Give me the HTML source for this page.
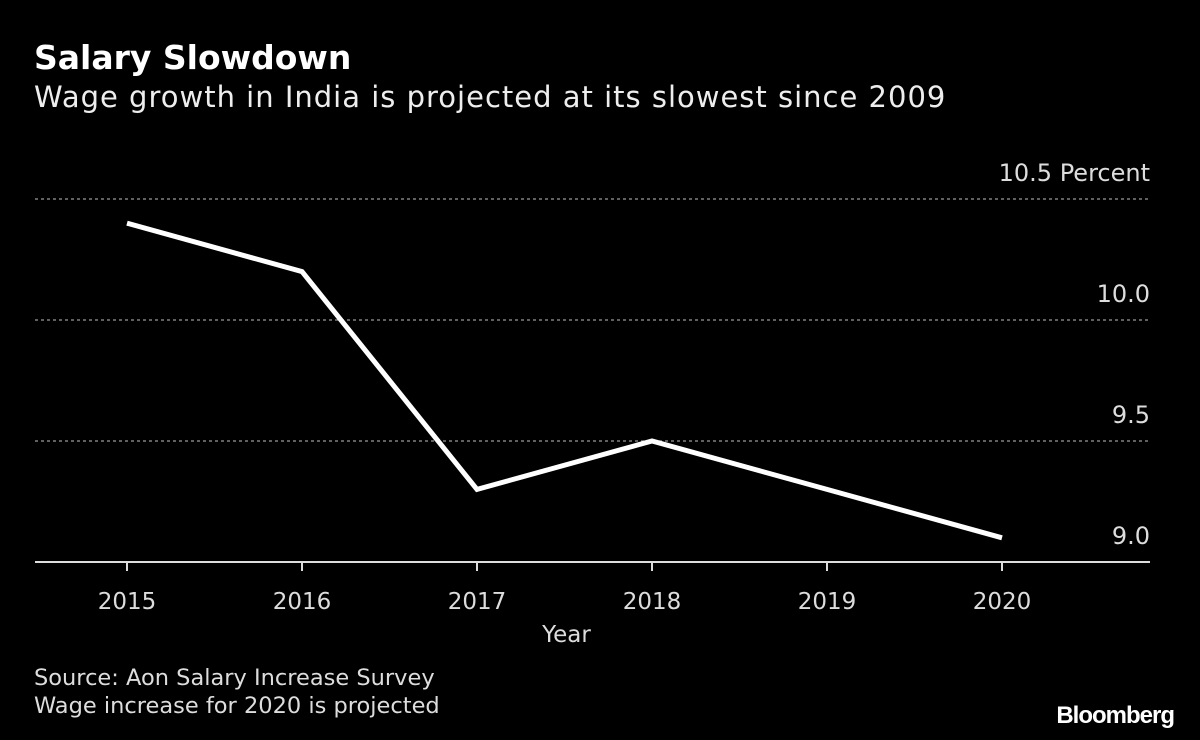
<!DOCTYPE html>
<html><head><meta charset="utf-8">
<style>
html,body{margin:0;padding:0;background:#000;}
body{width:1200px;height:740px;overflow:hidden;font-family:"DejaVu Sans","Liberation Sans",sans-serif;color:#fff;position:relative;}
.t{position:absolute;white-space:nowrap;}
</style></head><body>
<div class="t" style="left:34px;top:38px;font-size:33px;font-weight:bold;">Salary Slowdown</div>
<div class="t" style="left:34px;top:80px;font-size:29px;letter-spacing:1px;color:#eee;">Wage growth in India is projected at its slowest since 2009</div>
<svg width="1200" height="740" style="position:absolute;left:0;top:0;font-family:'DejaVu Sans','Liberation Sans',sans-serif">
<g id="grid"></g><g id="axis"></g><path id="line" fill="none" stroke="#fff" stroke-width="5" stroke-linejoin="miter" stroke-linecap="butt"></path>
</svg>
<div class="t" style="left:34px;top:664px;font-size:22.5px;color:#ddd;line-height:28px;">Source: Aon Salary Increase Survey<br>Wage increase for 2020 is projected</div>
<div class="t" style="right:26px;top:702px;font-size:24px;font-weight:bold;letter-spacing:-1px;font-family:'Liberation Sans',sans-serif;">Bloomberg</div>
<script>
const years=["2015","2016","2017","2018","2019","2020"];
const values=[10.4,10.2,9.3,9.5,9.3,9.1];
const yTicks=[10.5,10.0,9.5];
const yTickLabels=["10.5  Percent","10.0","9.5"];
const ns="http://www.w3.org/2000/svg";
function x(i){return 127+i*175;}
function y(v){return 562-(v-9.0)*242;}
const grid=document.getElementById('grid'),axis=document.getElementById('axis');
function mk(tag,attrs,parent){const e=document.createElementNS(ns,tag);for(const k in attrs)e.setAttribute(k,attrs[k]);parent.appendChild(e);return e;}
yTicks.forEach((v,i)=>{
 const l=mk('line',{x1:35,x2:1150,y1:y(v),y2:y(v),stroke:'#999','stroke-width':1.3,'stroke-dasharray':'3,3'},grid);
 
 
 const t=mk('text',{x:1150,y:y(v)-18,'text-anchor':'end',fill:'#ddd','font-size':24,'xml:space':'preserve'},grid);
 t.textContent=yTickLabels[i];
 
 
});
const l0=mk('text',{x:1150,y:y(9.0)-18,'text-anchor':'end',fill:'#ddd','font-size':24},grid);
l0.textContent="9.0";


const ax=mk('line',{x1:35,x2:1150,y1:562,y2:562,stroke:'#ddd','stroke-width':2},axis);


years.forEach((yr,i)=>{
 const tk=mk('line',{x1:x(i),x2:x(i),y1:562,y2:571,stroke:'#ddd','stroke-width':2},axis);
 
 
 const t=mk('text',{x:x(i),y:609,'text-anchor':'middle',fill:'#ddd','font-size':23},axis);
 t.textContent=yr;
 
 
});
const xt=mk('text',{x:x(2.5)+2,y:642,'text-anchor':'middle',fill:'#ddd','font-size':23},axis);
xt.textContent="Year";


const line=document.getElementById('line');
line.setAttribute('d',values.map((v,i)=>(i?'L':'M')+x(i)+','+y(v)).join(' '));


</script>
</body></html>
